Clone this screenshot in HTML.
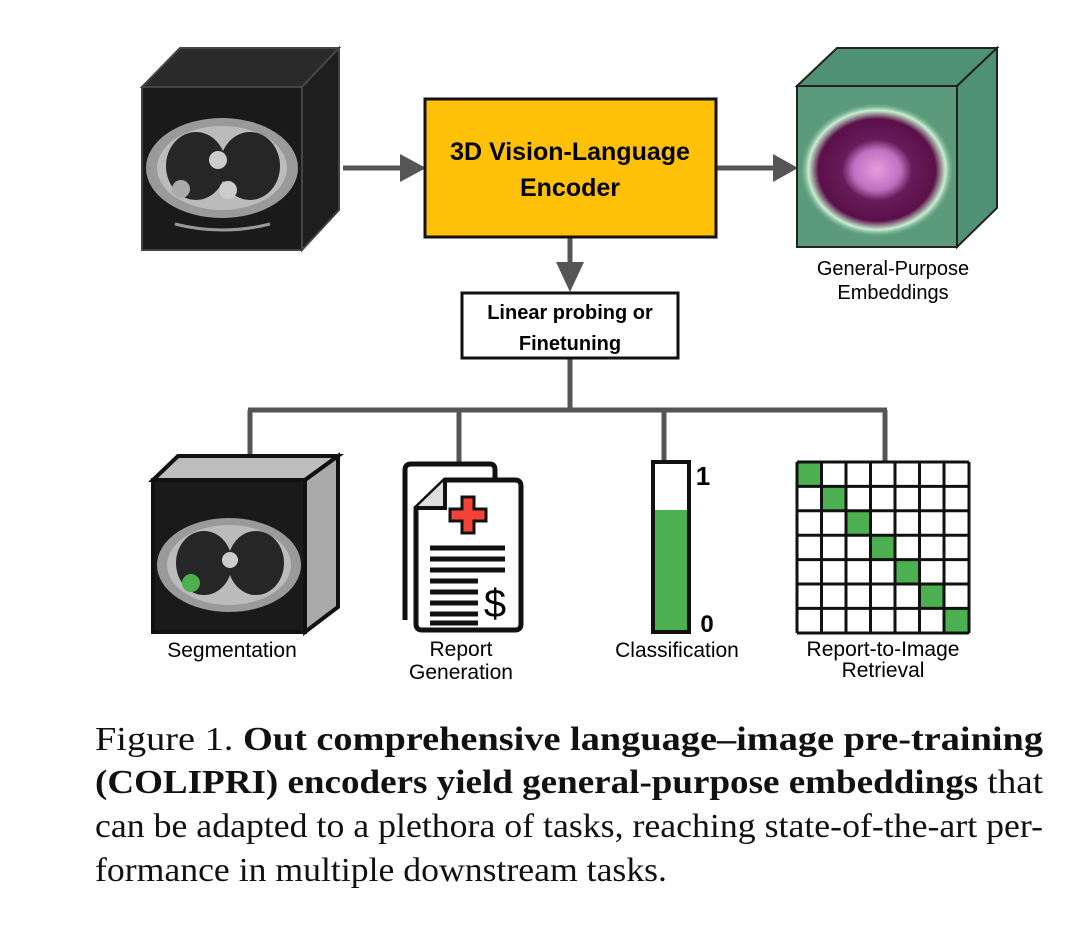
<!DOCTYPE html>
<html><head><meta charset="utf-8"><style>
html,body{margin:0;padding:0;background:#fff;width:1080px;height:929px;overflow:hidden}
svg{display:block}
.s{font-family:"Liberation Sans",sans-serif}
.c{font-family:"Liberation Serif",serif;font-size:34px;fill:#111}
</style></head><body>
<svg width="1080" height="929" viewBox="0 0 1080 929" xmlns="http://www.w3.org/2000/svg">
<defs>
<radialGradient id="blob" cx="50%" cy="50%" r="50%">
<stop offset="0" stop-color="#e89be0"/><stop offset="0.3" stop-color="#c070c0"/><stop offset="0.45" stop-color="#6a1a5a"/><stop offset="0.75" stop-color="#5a1048"/><stop offset="0.88" stop-color="#c8f0d0"/><stop offset="1" stop-color="#4e9274" stop-opacity="0"/>
</radialGradient>
</defs>
<polygon points="142,87 180,48 339,48 302,87" fill="#2a2a2a" stroke="#444" stroke-width="2"/>
<polygon points="302,87 339,48 339,210 302,250" fill="#1e1e1e" stroke="#444" stroke-width="2"/>
<rect x="142" y="87" width="160" height="163" fill="#1a1a1a" stroke="#444" stroke-width="2"/>
<ellipse cx="222" cy="168" rx="76" ry="50" fill="#9a9a9a"/>
<ellipse cx="222" cy="168" rx="65" ry="42" fill="#bbb"/>
<ellipse cx="196" cy="166" rx="30" ry="34" fill="#262626"/>
<ellipse cx="250" cy="166" rx="30" ry="34" fill="#262626"/>
<circle cx="181" cy="189" r="9" fill="#aaa"/>
<circle cx="218" cy="160" r="9" fill="#ccc"/>
<circle cx="228" cy="190" r="9" fill="#ccc"/>
<path d="M175 224 Q222 236 270 224" stroke="#999" stroke-width="3" fill="none"/>
<g fill="#555" stroke="#555">
<line x1="343" y1="168" x2="405" y2="168" stroke-width="5"/>
<polygon points="400,154 426,168 400,182" stroke="none"/>
<line x1="716" y1="168" x2="778" y2="168" stroke-width="5"/>
<polygon points="773,154 798,168 773,182" stroke="none"/>
<line x1="570" y1="237" x2="570" y2="270" stroke-width="5"/>
<polygon points="556,262 570,292 584,262" stroke="none"/>
<polyline points="570,358 570,410" fill="none" stroke-width="5"/>
<line x1="248" y1="410" x2="887" y2="410" stroke-width="5"/>
<line x1="250" y1="410" x2="250" y2="458" stroke-width="5"/>
<line x1="459" y1="410" x2="459" y2="462" stroke-width="5"/>
<line x1="664" y1="410" x2="664" y2="462" stroke-width="5"/>
<line x1="885" y1="410" x2="885" y2="462" stroke-width="5"/>
</g>
<rect x="425" y="99" width="291" height="138" fill="#FFC107" stroke="#111" stroke-width="3"/>
<text class="s" x="570" y="160" font-size="25" font-weight="bold" text-anchor="middle">3D Vision-Language</text>
<text class="s" x="570" y="196" font-size="25" font-weight="bold" text-anchor="middle">Encoder</text>
<polygon points="797,86 837,48 997,48 957,86" fill="#4f9273" stroke="#222" stroke-width="2"/>
<polygon points="957,86 997,48 997,208 957,247" fill="#4f9273" stroke="#222" stroke-width="2"/>
<rect x="797" y="86" width="160" height="161" fill="#5b9a7a" stroke="#222" stroke-width="2"/>
<ellipse cx="877" cy="170" rx="78" ry="68" fill="url(#blob)"/>
<text class="s" x="893" y="275" font-size="20" text-anchor="middle">General-Purpose</text>
<text class="s" x="893" y="299" font-size="20" text-anchor="middle">Embeddings</text>
<rect x="462" y="293" width="216" height="65" fill="#fff" stroke="#111" stroke-width="3"/>
<text class="s" x="570" y="319" font-size="20" font-weight="bold" text-anchor="middle">Linear probing or</text>
<text class="s" x="570" y="350" font-size="20" font-weight="bold" text-anchor="middle">Finetuning</text>
<polygon points="153,480 178,456 338,456 305,480" fill="#bdbdbd" stroke="#111" stroke-width="4"/>
<polygon points="305,480 338,456 338,607 305,632" fill="#aaa" stroke="#111" stroke-width="4"/>
<rect x="153" y="480" width="152" height="152" fill="#1a1a1a" stroke="#111" stroke-width="4"/>
<ellipse cx="229" cy="565" rx="72" ry="47" fill="#9a9a9a"/>
<ellipse cx="229" cy="565" rx="62" ry="40" fill="#bbb"/>
<ellipse cx="204" cy="563" rx="28" ry="32" fill="#262626"/>
<ellipse cx="256" cy="563" rx="28" ry="32" fill="#262626"/>
<circle cx="191" cy="583" r="9" fill="#4caf50"/>
<circle cx="230" cy="560" r="8" fill="#ccc"/>
<path d="M405 620 L405 470 Q405 464 411 464 L490 464 Q495 464 495 470 L495 478" fill="none" stroke="#111" stroke-width="5"/>
<path d="M445 480 L515 480 Q521 480 521 486 L521 624 Q521 630 515 630 L422 630 Q416 630 416 624 L416 508 Z" fill="#fff" stroke="#111" stroke-width="5"/>
<path d="M445 480 L445 508 L416 508" fill="#e0e0e0" stroke="#111" stroke-width="4"/>
<path d="M462 497 h12 v12 h12 v12 h-12 v12 h-12 v-12 h-12 v-12 h12 z" fill="#f44336" stroke="#111" stroke-width="3"/>
<g stroke="#111" stroke-width="5">
<line x1="430" y1="548" x2="505" y2="548"/><line x1="430" y1="559" x2="505" y2="559"/><line x1="430" y1="570" x2="505" y2="570"/>
<line x1="430" y1="581" x2="478" y2="581"/><line x1="430" y1="592" x2="478" y2="592"/><line x1="430" y1="603" x2="478" y2="603"/><line x1="430" y1="614" x2="478" y2="614"/><line x1="430" y1="623" x2="478" y2="623"/>
</g>
<text class="s" x="495" y="617" font-size="40" text-anchor="middle">$</text>
<text class="s" x="461" y="656" font-size="21" text-anchor="middle">Report</text>
<text class="s" x="461" y="679" font-size="21" text-anchor="middle">Generation</text>
<text class="s" x="232" y="657" font-size="21" text-anchor="middle">Segmentation</text>
<rect x="653" y="462" width="36" height="170" fill="#fff" stroke="#111" stroke-width="4"/>
<rect x="655" y="510" width="32" height="120" fill="#4caf50"/>
<text class="s" x="703" y="485" font-size="26" font-weight="bold" text-anchor="middle">1</text>
<text class="s" x="707" y="632" font-size="24" font-weight="bold" text-anchor="middle">0</text>
<text class="s" x="677" y="657" font-size="21" text-anchor="middle">Classification</text>
<g>
<rect x="797" y="462" width="172" height="171" fill="#fff"/>
<rect x="797" y="462" width="24.5" height="24.4" fill="#4caf50"/>
<rect x="821.5" y="486.4" width="24.5" height="24.4" fill="#4caf50"/>
<rect x="846" y="510.8" width="24.5" height="24.4" fill="#4caf50"/>
<rect x="870.5" y="535.2" width="24.5" height="24.4" fill="#4caf50"/>
<rect x="895" y="559.6" width="24.5" height="24.4" fill="#4caf50"/>
<rect x="919.5" y="584" width="24.5" height="24.4" fill="#4caf50"/>
<rect x="944" y="608.4" width="25" height="24.6" fill="#4caf50"/>
<g stroke="#111" stroke-width="3">
<line x1="797" y1="462" x2="797" y2="633"/><line x1="821.5" y1="462" x2="821.5" y2="633"/><line x1="846" y1="462" x2="846" y2="633"/><line x1="870.5" y1="462" x2="870.5" y2="633"/><line x1="895" y1="462" x2="895" y2="633"/><line x1="919.5" y1="462" x2="919.5" y2="633"/><line x1="944" y1="462" x2="944" y2="633"/><line x1="969" y1="462" x2="969" y2="633"/>
<line x1="797" y1="462" x2="969" y2="462"/><line x1="797" y1="486.4" x2="969" y2="486.4"/><line x1="797" y1="510.8" x2="969" y2="510.8"/><line x1="797" y1="535.2" x2="969" y2="535.2"/><line x1="797" y1="559.6" x2="969" y2="559.6"/><line x1="797" y1="584" x2="969" y2="584"/><line x1="797" y1="608.4" x2="969" y2="608.4"/><line x1="797" y1="633" x2="969" y2="633"/>
</g>
</g>
<text class="s" x="883" y="656" font-size="21" text-anchor="middle">Report-to-Image</text>
<text class="s" x="883" y="677" font-size="21" text-anchor="middle">Retrieval</text>
<text class="c" x="95" y="750" textLength="948" lengthAdjust="spacingAndGlyphs">Figure 1.  <tspan font-weight="bold">Out comprehensive language–image pre-training</tspan></text>
<text class="c" x="95" y="793" textLength="948" lengthAdjust="spacingAndGlyphs"><tspan font-weight="bold">(COLIPRI) encoders yield general-purpose embeddings</tspan> that</text>
<text class="c" x="95" y="837" textLength="948" lengthAdjust="spacingAndGlyphs">can be adapted to a plethora of tasks, reaching state-of-the-art per-</text>
<text class="c" x="95" y="881" textLength="572" lengthAdjust="spacingAndGlyphs">formance in multiple downstream tasks.</text>
</svg>
</body></html>
